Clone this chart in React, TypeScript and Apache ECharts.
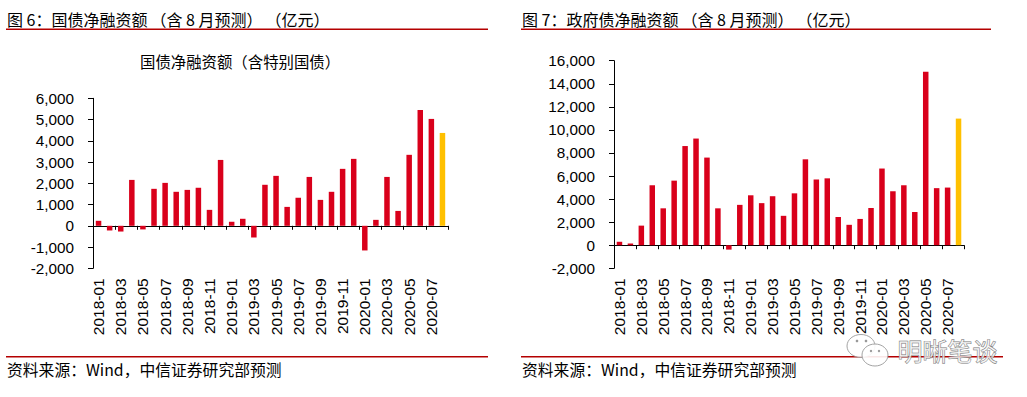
import React, { useEffect, useRef } from "react";
import * as echarts from "echarts";

const categories = [
  "2018-01","2018-02","2018-03","2018-04","2018-05","2018-06","2018-07","2018-08","2018-09","2018-10","2018-11","2018-12",
  "2019-01","2019-02","2019-03","2019-04","2019-05","2019-06","2019-07","2019-08","2019-09","2019-10","2019-11","2019-12",
  "2020-01","2020-02","2020-03","2020-04","2020-05","2020-06","2020-07","2020-08",
];

const treasuryNet = [
  235, -220, -270, 2160, -170, 1740, 2020, 1600, 1690, 1790, 750, 3100,
  190, 330, -550, 1930, 2350, 890, 1320, 2300, 1220, 1600, 2680, 3150,
  -1160, 280, 2300, 700, 3340, 5450, 5030, 4370,
];

const governmentNet = [
  300, 150, 1700, 5200, 3200, 5600, 8600, 9250, 7600, 3200, -380, 3500,
  4330, 3650, 4250, 2550, 4500, 7450, 5700, 5800, 2450, 1770, 2280, 3230,
  6650, 4680, 5200, 2880, 15050, 4950, 5000, 10980,
];

const forecastIndex = 31;

const leftTitleParts = ["图 6：国债净融资额", "（含 8 月预测）", "（亿元）"];
const rightTitleParts = ["图 7：政府债净融资额", "（含 8 月预测）", "（亿元）"];
const leftSubtitle = "国债净融资额（含特别国债）";
const sourceText = "资料来源：Wind，中信证券研究部预测";
const watermarkText = "明晰笔谈";

const RED = "#D9001B";
const YELLOW = "#FFC000";
const LINE_RED = "#B40000";
const NUM_FONT = "'Liberation Sans', Arial, sans-serif";
const CJK_FONT = "'Noto Sans CJK SC', sans-serif";

function barData(vals: number[]) {
  return vals.map((v, i) => ({
    value: v,
    itemStyle: { color: i === forecastIndex ? YELLOW : RED },
  }));
}

function fmt(v: number) {
  return v.toLocaleString("en-US");
}

function titleRich(parts: string[]) {
  return `{a|${parts[0]}}{p|${parts[1]}}{p|${parts[2]}}`;
}

export default function App() {
  const ref = useRef<HTMLDivElement>(null);
  useEffect(() => {
    document.body.style.margin = "0";
    if (!ref.current) return;
    const chart = echarts.init(ref.current, null, { renderer: "svg" });

    const xLineAxis = (gridIndex: number) => ({
      type: "category",
      gridIndex,
      data: categories,
      boundaryGap: true,
      axisLine: { show: true, onZero: true, lineStyle: { color: "#000", width: 1 } },
      axisTick: { show: true, interval: 1, length: 4, lineStyle: { color: "#000" } },
      axisLabel: { show: false },
      splitLine: { show: false },
    });
    const xLabelAxis = (gridIndex: number) => ({
      type: "category",
      gridIndex,
      position: "bottom",
      data: categories,
      boundaryGap: true,
      axisLine: { show: false, onZero: false },
      axisTick: { show: false },
      axisLabel: {
        show: true,
        interval: 1,
        rotate: 90,
        margin: 10,
        fontSize: 15.5,
        color: "#000",
        fontFamily: NUM_FONT,
      },
      splitLine: { show: false },
    });
    const yAxis = (gridIndex: number, min: number, max: number, interval: number) => ({
      type: "value",
      gridIndex,
      min,
      max,
      interval,
      axisLine: { show: true, lineStyle: { color: "#000", width: 1 } },
      axisTick: { show: true, length: 5, lineStyle: { color: "#000" } },
      axisLabel: {
        margin: 19,
        fontSize: 15.3,
        color: "#000",
        fontFamily: NUM_FONT,
        formatter: (v: number) => fmt(v),
      },
      splitLine: { show: false },
    });

    const titleStyle = (parts: string[]) => ({
      text: titleRich(parts),
      fontSize: 16,
      fontFamily: CJK_FONT,
      fill: "#000",
      rich: {
        a: { fontSize: 16, fontFamily: CJK_FONT, color: "#000" },
        p: { fontSize: 16, fontFamily: CJK_FONT, color: "#000", padding: [0, 0, 0, 3] },
      },
    });

    chart.setOption({
      animation: false,
      backgroundColor: "#fff",
      grid: [
        { left: 93, top: 98.3, width: 355, height: 170 },
        { left: 614, top: 60.7, width: 350, height: 207.6 },
      ],
      xAxis: [xLineAxis(0), xLabelAxis(0), xLineAxis(1), xLabelAxis(1)],
      yAxis: [yAxis(0, -2000, 6000, 1000), yAxis(1, -2000, 16000, 2000)],
      series: [
        { type: "bar", xAxisIndex: 0, yAxisIndex: 0, data: barData(treasuryNet), barWidth: 5.5 },
        { type: "bar", xAxisIndex: 2, yAxisIndex: 1, data: barData(governmentNet), barWidth: 5.5 },
      ],
      graphic: [
        { type: "text", left: 7, top: 11, style: titleStyle(leftTitleParts) },
        { type: "text", left: 522, top: 11, style: titleStyle(rightTitleParts) },
        { type: "line", shape: { x1: 6, y1: 29.3, x2: 488, y2: 29.3 }, style: { stroke: LINE_RED, lineWidth: 1.5 } },
        { type: "line", shape: { x1: 521, y1: 29.3, x2: 991, y2: 29.3 }, style: { stroke: LINE_RED, lineWidth: 1.5 } },
        { type: "text", left: 140, top: 53, style: { text: leftSubtitle, font: `15.4px ${CJK_FONT}`, fill: "#000" } },
        { type: "line", shape: { x1: 6, y1: 356.7, x2: 488, y2: 356.7 }, style: { stroke: LINE_RED, lineWidth: 1.5 } },
        { type: "line", shape: { x1: 521, y1: 356.7, x2: 1003, y2: 356.7 }, style: { stroke: LINE_RED, lineWidth: 1.5 } },
        { type: "text", left: 7, top: 362, style: { text: sourceText, font: `15.8px ${CJK_FONT}`, fill: "#000" } },
        { type: "text", left: 522, top: 362, style: { text: sourceText, font: `15.8px ${CJK_FONT}`, fill: "#000" } },
        // watermark
        { type: "ellipse", shape: { cx: 861, cy: 346, rx: 14, ry: 11.5 }, style: { fill: "rgba(255,255,255,0.85)", stroke: "#999", lineWidth: 0.9 }, z: 100 },
        { type: "ellipse", shape: { cx: 875, cy: 355, rx: 13, ry: 11 }, style: { fill: "rgba(255,255,255,0.9)", stroke: "#999", lineWidth: 0.9 }, z: 101 },
        { type: "circle", shape: { cx: 857, cy: 341, r: 1.3 }, style: { fill: "#999" }, z: 102 },
        { type: "circle", shape: { cx: 866, cy: 341, r: 1.3 }, style: { fill: "#999" }, z: 102 },
        { type: "circle", shape: { cx: 871, cy: 351, r: 1.2 }, style: { fill: "#999" }, z: 102 },
        { type: "circle", shape: { cx: 879, cy: 351, r: 1.2 }, style: { fill: "#999" }, z: 102 },
        { type: "text", left: 897, top: 337, z: 102, style: { text: watermarkText, font: `25px ${CJK_FONT}`, fill: "rgba(255,255,255,0.7)", stroke: "#777", lineWidth: 0.9 } },
      ],
    });
    return () => chart.dispose();
  }, []);
  return <div ref={ref} style={{ width: 1027, height: 397 }} />;
}
